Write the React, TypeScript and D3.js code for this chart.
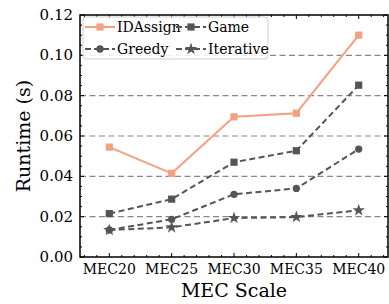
import React from "react";
import { scalePoint, scaleLinear, line, symbol, symbolSquare, symbolCircle, symbolStar, range } from "d3";

const categories = ["MEC20", "MEC25", "MEC30", "MEC35", "MEC40"];
const idAssign = [0.0545, 0.0415, 0.0695, 0.0713, 0.11];
const game = [0.0215, 0.0287, 0.047, 0.0527, 0.0852];
const greedy = [0.0134, 0.0187, 0.0311, 0.034, 0.0535];
const iterative = [0.0134, 0.0147, 0.0193, 0.0198, 0.0232];
const yTicks = [0, 0.02, 0.04, 0.06, 0.08, 0.1, 0.12];
const gridTicks = [0.02, 0.04, 0.06, 0.08, 0.1];

const W = 389;
const H = 304;
const margin = { top: 15, right: 1, bottom: 47, left: 80 };
const font = "'DejaVu Serif'";

const series = [
  { name: "IDAssign", values: idAssign, color: "#f4a182", dash: "", marker: symbolSquare, size: 52 },
  { name: "Game", values: game, color: "#555555", dash: "6,3.5", marker: symbolSquare, size: 52 },
  { name: "Greedy", values: greedy, color: "#555555", dash: "6,3.5", marker: symbolCircle, size: 42 },
  { name: "Iterative", values: iterative, color: "#555555", dash: "6,3.5", marker: symbolStar, size: 48 },
];

export default function App() {
  const x0 = margin.left;
  const x1 = W - margin.right;
  const y0 = H - margin.bottom;
  const y1 = margin.top;

  const x = scalePoint<string>().domain(categories).range([x0, x1]).padding(0.47);
  const y = scaleLinear().domain([0, 0.12]).range([y0, y1]);
  const step = x.step();

  const minorX = range(-2, categories.length * 5 + 3)
    .map((i) => x(categories[0])! + (i * step) / 5)
    .filter((v, i) => v > x0 && v < x1 && (i + 3) % 5 !== 0);
  const minorY = range(0, 25).map((i) => i * 0.005).filter((v) => Math.round(v * 1000) % 20 !== 0);

  const path = line<number>()
    .x((_, i) => x(categories[i])!)
    .y((d) => y(d));

  // legend positions
  const legendItems = [
    { s: series[0], lx: 85, ly: 27 },
    { s: series[1], lx: 176, ly: 27 },
    { s: series[2], lx: 85, ly: 49 },
    { s: series[3], lx: 176, ly: 49 },
  ];

  return (
    <svg width={W} height={H} style={{ position: "absolute", left: 0, top: 0, background: "#fff" }}>
      <g style={{ fontFamily: font }}>
      {/* grid */}
      {gridTicks.map((t) => (
        <line key={t} x1={x0} x2={x1} y1={y(t)} y2={y(t)} stroke="#888" strokeWidth={1.2} strokeDasharray="6,3.5" />
      ))}

      {/* series */}
      {series.map((s) => (
        <g key={s.name}>
          <path d={path(s.values)!} fill="none" stroke={s.color} strokeWidth={2} strokeDasharray={s.dash} />
          {s.values.map((v, i) => (
            <path
              key={i}
              transform={`translate(${x(categories[i])},${y(v)})`}
              d={symbol(s.marker, s.size)()!}
              fill={s.color}
            />
          ))}
        </g>
      ))}

      {/* ticks */}
      {categories.map((c) => (
        <g key={c}>
          <line x1={x(c)} x2={x(c)} y1={y0} y2={y0 - 4} stroke="#000" />
          <line x1={x(c)} x2={x(c)} y1={y1} y2={y1 + 4} stroke="#000" />
          <text x={x(c)} y={y0 + 17} textAnchor="middle" fontSize={14}>
            {c}
          </text>
        </g>
      ))}
      {minorX.map((v, i) => (
        <g key={i}>
          <line x1={v} x2={v} y1={y0} y2={y0 - 2} stroke="#000" />
          <line x1={v} x2={v} y1={y1} y2={y1 + 2} stroke="#000" />
        </g>
      ))}
      {yTicks.map((t) => (
        <g key={t}>
          <line x1={x0} x2={x0 + 4} y1={y(t)} y2={y(t)} stroke="#000" />
          <line x1={x1} x2={x1 - 4} y1={y(t)} y2={y(t)} stroke="#000" />
          <text x={x0 - 7} y={y(t) + 5} textAnchor="end" fontSize={15}>
            {t.toFixed(2)}
          </text>
        </g>
      ))}
      {minorY.map((t) => (
        <g key={t}>
          <line x1={x0} x2={x0 + 2} y1={y(t)} y2={y(t)} stroke="#000" />
          <line x1={x1} x2={x1 - 2} y1={y(t)} y2={y(t)} stroke="#000" />
        </g>
      ))}

      {/* frame */}
      <rect x={x0} y={y1} width={x1 - x0} height={y0 - y1} fill="none" stroke="#000" strokeWidth={1.5} />

      {/* legend */}
      <rect x={83} y={17} width={185} height={42} rx={3} fill="#fff" fillOpacity={0.85} stroke="#d0d0d0" strokeWidth={1} />
      {legendItems.map(({ s, lx, ly }) => (
        <g key={s.name}>
          <line x1={lx} x2={lx + 30} y1={ly} y2={ly} stroke={s.color} strokeWidth={2} strokeDasharray={s.dash ? "6,3" : ""} />
          <path transform={`translate(${lx + 15},${ly})`} d={symbol(s.marker, s.size)()!} fill={s.color} />
          <text x={lx + 32} y={ly + 5} fontSize={14}>
            {s.name}
          </text>
        </g>
      ))}

      {/* axis labels */}
      <text x={(x0 + x1) / 2} y={297} textAnchor="middle" fontSize={19}>
        MEC Scale
      </text>
      <text transform={`translate(30,${(y0 + y1) / 2}) rotate(-90)`} textAnchor="middle" fontSize={19}>
        Runtime (s)
      </text>
      </g>
    </svg>
  );
}
